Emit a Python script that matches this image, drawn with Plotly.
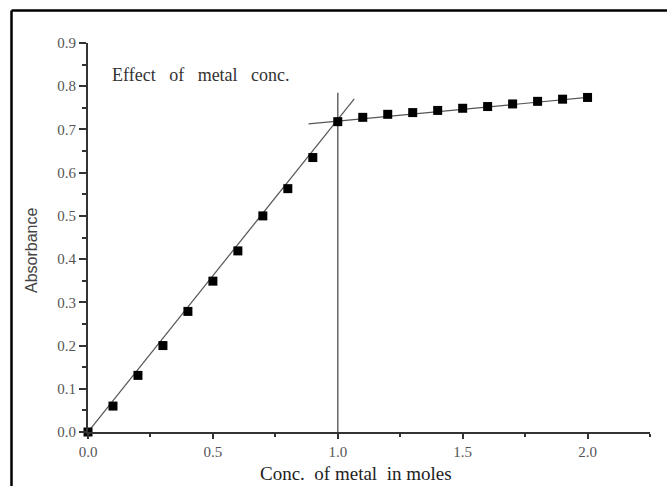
import plotly.graph_objects as go

# Data
conc = [0.0, 0.1, 0.2, 0.3, 0.4, 0.5, 0.6, 0.7, 0.8, 0.9, 1.0,
        1.1, 1.2, 1.3, 1.4, 1.5, 1.6, 1.7, 1.8, 1.9, 2.0]
absorbance = [0.0, 0.060, 0.131, 0.200, 0.279, 0.349, 0.419, 0.500, 0.563, 0.635, 0.718,
              0.728, 0.735, 0.739, 0.744, 0.749, 0.753, 0.759, 0.765, 0.770, 0.774]

# Fit lines (endpoints)
fit1_x = [0.0, 1.066]
fit1_y = [0.0, 0.771]
fit2_x = [0.883, 2.0]
fit2_y = [0.713, 0.774]
vline_x = [1.0, 1.0]
vline_y = [0.0, 0.785]

x_ticks = [0.0, 0.5, 1.0, 1.5, 2.0]
y_ticks = [0.0, 0.1, 0.2, 0.3, 0.4, 0.5, 0.6, 0.7, 0.8, 0.9]

W, H = 667, 486
ml, mr, mt, mb = 88, 17, 43, 54

fig = go.Figure()
line_style = dict(color="#555555", width=1.2)
fig.add_trace(go.Scatter(x=fit1_x, y=fit1_y, mode="lines", line=line_style, hoverinfo="skip"))
fig.add_trace(go.Scatter(x=fit2_x, y=fit2_y, mode="lines", line=line_style, hoverinfo="skip"))
fig.add_trace(go.Scatter(x=vline_x, y=vline_y, mode="lines", line=dict(color="#666666", width=1.5), hoverinfo="skip"))
fig.add_trace(go.Scatter(x=conc, y=absorbance, mode="markers",
                         marker=dict(symbol="square", size=9, color="black"),
                         cliponaxis=False))

serif = "Liberation Serif, Times New Roman, serif"
axis_common = dict(
    showline=True, linecolor="#333333", linewidth=2,
    tickwidth=2, tickcolor="#333333", ticks="outside",
    showgrid=False, zeroline=False,
    tickfont=dict(family=serif, size=15, color="#555555"),
)
fig.update_xaxes(range=[0, 2.25], tickvals=x_ticks, ticktext=[f"{v:.1f}" for v in x_ticks],
                 ticklen=5,
                 minor=dict(ticks="outside", ticklen=3, tickwidth=2, tickcolor="#333333",
                            tickvals=[0.25, 0.75, 1.25, 1.75, 2.25]),
                 **axis_common)
fig.update_yaxes(range=[0, 0.9], tickvals=y_ticks, ticktext=[f"{v:.1f}" for v in y_ticks],
                 ticklen=7,
                 minor=dict(ticks="outside", ticklen=4, tickwidth=2, tickcolor="#333333",
                            tickvals=[0.05 + 0.1 * i for i in range(9)]),
                 **axis_common)

fig.add_annotation(x=0.088, y=0.825, xref="x", yref="y", xanchor="left", yanchor="middle",
                   text="Effect\u00a0\u00a0\u00a0of\u00a0\u00a0\u00a0metal\u00a0\u00a0\u00a0conc.", showarrow=False,
                   font=dict(family=serif, size=18, color="#333333"))
fig.add_annotation(x=(356 - ml) / (W - ml - mr), y=-(473 - (H - mb)) / (H - mt - mb),
                   xref="paper", yref="paper", xanchor="center", yanchor="middle",
                   text="Conc.\u00a0\u00a0of\u00a0metal\u00a0\u00a0in\u00a0moles", showarrow=False,
                   font=dict(family=serif, size=19, color="#222222"))
fig.add_annotation(x=-(88 - 32) / (W - ml - mr), y=(H - mb - 251) / (H - mt - mb),
                   xref="paper", yref="paper", xanchor="center", yanchor="middle", textangle=-90,
                   text="Absorbance", showarrow=False,
                   font=dict(family="Liberation Sans Narrow, Liberation Sans, sans-serif", size=16, color="#444444"))

# outer frame (left and top edges visible)
pw, ph = W - ml - mr, H - mt - mb
fx0 = (11.5 - ml) / pw
fy1 = (H - mb - 10.5) / ph
fig.add_shape(type="line", xref="paper", yref="paper", x0=fx0, x1=fx0, y0=-1, y1=fy1,
              line=dict(color="black", width=2.5))
fig.add_shape(type="line", xref="paper", yref="paper", x0=fx0, x1=2, y0=fy1, y1=fy1,
              line=dict(color="black", width=2.5))

fig.update_layout(width=W, height=H, margin=dict(l=ml, r=mr, t=mt, b=mb),
                  paper_bgcolor="white", plot_bgcolor="white", showlegend=False)

fig.write_html("out.html")
